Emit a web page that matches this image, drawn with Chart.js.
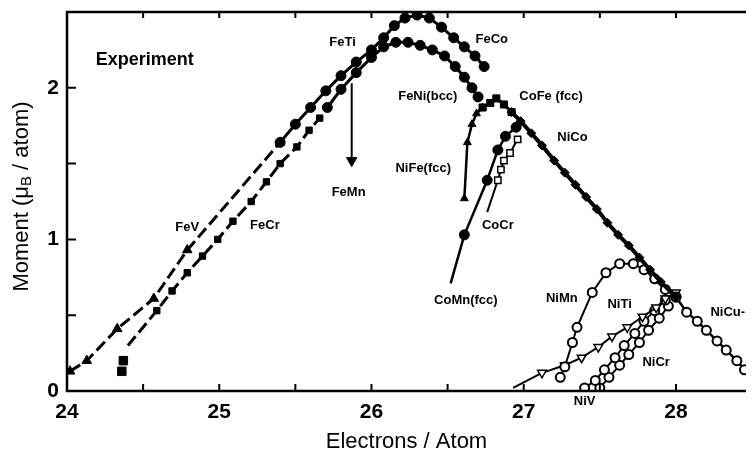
<!DOCTYPE html>
<html>
<head>
<meta charset="utf-8">
<script src="https://cdn.jsdelivr.net/npm/chart.js@4.4.1/dist/chart.umd.min.js"></script>
<style>
  html, body { margin: 0; padding: 0; background: #fff; }
  #wrap { width: 753px; height: 455px; }
</style>
</head>
<body>
<div id="wrap"><canvas id="slater" width="753" height="455"></canvas></div>
<script>
// Slater-Pauling curve

// FeV (filled triangles, dashed)
const feVX = [24.02, 24.13, 24.33, 24.57, 24.79, 25.40];
const feVY = [0.13, 0.20, 0.41, 0.61, 0.93, 1.64];

// FeCr (filled squares, dashed)
const feCrX = [24.40, 24.59, 24.69, 24.79, 24.89, 24.99, 25.09, 25.21, 25.31, 25.40, 25.51, 25.59, 25.66, 25.71];
const feCrY = [0.30, 0.53, 0.66, 0.78, 0.89, 1.00, 1.12, 1.25, 1.38, 1.50, 1.61, 1.72, 1.80, 1.87];
const feCrLowX = [24.36, 24.37];
const feCrLowY = [0.13, 0.20];

// FeTi / FeCo upper arc
const feCoX = [25.40, 25.50, 25.60, 25.70, 25.80, 25.90, 26.00, 26.08, 26.15, 26.22, 26.30, 26.38, 26.46, 26.54, 26.61, 26.68, 26.74];
const feCoY = [1.64, 1.76, 1.87, 1.98, 2.08, 2.17, 2.25, 2.33, 2.41, 2.46, 2.48, 2.46, 2.40, 2.33, 2.27, 2.21, 2.14];

// FeNi (bcc) lower arc
const feNiX = [25.71, 25.80, 25.90, 26.00, 26.08, 26.16, 26.24, 26.32, 26.40, 26.48, 26.55, 26.61, 26.66, 26.70];
const feNiY = [1.87, 1.99, 2.10, 2.20, 2.27, 2.30, 2.30, 2.28, 2.25, 2.21, 2.14, 2.07, 2.00, 1.94];

// FeMn drop
const feMnX = [25.87, 25.87];
const feMnY = [2.03, 1.52];

// NiFe (fcc)
const niFeX = [26.61, 26.63, 26.66, 26.69, 26.73];
const niFeY = [1.27, 1.64, 1.76, 1.83, 1.87];

// CoFe (fcc) top
const coFeX = [26.73, 26.78, 26.82, 26.87, 26.92];
const coFeY = [1.87, 1.90, 1.93, 1.89, 1.84];

// NiCo
const niCoX = [26.92, 26.98, 27.05, 27.12, 27.20, 27.27, 27.34, 27.41, 27.48, 27.55, 27.62, 27.69, 27.76, 27.83, 27.90, 28.00];
const niCoY = [1.84, 1.78, 1.70, 1.62, 1.52, 1.44, 1.36, 1.28, 1.20, 1.11, 1.03, 0.96, 0.88, 0.80, 0.72, 0.62];

// CoMn (fcc)
const coMnX = [26.52, 26.61, 26.76, 26.83, 26.88, 26.95, 27.00];
const coMnY = [0.71, 1.03, 1.39, 1.59, 1.68, 1.74, 1.77];

// CoCr (open squares)
const coCrX = [26.76, 26.83, 26.85, 26.87, 26.91, 26.96];
const coCrY = [1.18, 1.39, 1.46, 1.52, 1.57, 1.66];

// NiMn (open circles)
const niMnX = [27.24, 27.27, 27.32, 27.35, 27.45, 27.54, 27.63, 27.72, 27.79, 27.86, 27.93, 28.00];
const niMnY = [0.09, 0.16, 0.32, 0.42, 0.65, 0.78, 0.84, 0.84, 0.80, 0.74, 0.67, 0.62];

// NiTi (open inverted triangles)
const niTiX = [26.93, 27.12, 27.27, 27.38, 27.49, 27.58, 27.68, 27.78, 27.87, 27.93, 28.00];
const niTiY = [0.02, 0.12, 0.17, 0.22, 0.29, 0.36, 0.42, 0.49, 0.55, 0.61, 0.65];

// NiV and NiCr (open circles)
const niVX = [27.40, 27.47, 27.53, 27.60, 27.66, 27.73, 27.79, 27.86, 27.93];
const niVY = [0.02, 0.07, 0.14, 0.22, 0.30, 0.38, 0.46, 0.53, 0.60];
const niCrX = [27.50, 27.56, 27.63, 27.69, 27.76, 27.82, 27.89, 27.95];
const niCrY = [0.02, 0.09, 0.17, 0.24, 0.32, 0.40, 0.48, 0.56];

// NiCu (open circles)
const niCuX = [28.00, 28.07, 28.14, 28.20, 28.27, 28.33, 28.40, 28.45];
const niCuY = [0.62, 0.52, 0.46, 0.40, 0.33, 0.27, 0.20, 0.14];

// axis ticks
const xTickStep = 0.5;
const yTickStep = 0.5;

// curve labels
const labelText = ["FeTi", "FeCo", "FeNi(bcc)", "CoFe (fcc)", "NiCo", "NiFe(fcc)", "FeMn", "FeV", "FeCr",
  "CoCr", "CoMn(fcc)", "NiMn", "NiTi", "NiCr", "NiV", "NiCu-"];
const labelX = [25.81, 26.79, 26.37, 27.18, 27.32, 26.34, 25.85, 24.79, 25.30,
  26.83, 26.62, 27.25, 27.63, 27.87, 27.40, 28.34];
const labelY = [2.30, 2.32, 1.94, 1.94, 1.67, 1.47, 1.31, 1.08, 1.09,
  1.095, 0.60, 0.61, 0.57, 0.19, -0.07, 0.52];

const pts = (xs, ys) => xs.map((x, i) => ({ x: x, y: ys[i] }));
const noFirst = (r) => (ctx) => (ctx.dataIndex === 0 ? 0 : r);

function series(xs, ys, opts) {
  return Object.assign({
    data: pts(xs, ys),
    showLine: true,
    borderColor: "#000",
    backgroundColor: "#000",
    borderWidth: 3,
    pointRadius: 4.5,
    pointBorderColor: "#000",
    pointBackgroundColor: "#000",
    pointBorderWidth: 1,
    pointStyle: "circle",
    tension: 0,
  }, opts);
}

const datasets = [
  series(feVX, feVY, { pointStyle: "triangle", pointRadius: 5.5, borderDash: [12, 5] }),
  series(feCrX, feCrY, { pointStyle: "rect", pointRadius: noFirst(4.5), borderDash: [12, 5] }),
  series(feCrLowX, feCrLowY, { pointStyle: "rect", pointRadius: 6, showLine: false }),
  series(feCoX, feCoY, { pointRadius: 5 }),
  series(feNiX, feNiY, { pointRadius: 5 }),
  series(feMnX, feMnY, { borderWidth: 2, pointStyle: "triangle", rotation: 180, pointRadius: noFirst(6) }),
  series(niFeX, niFeY, { borderWidth: 2.5, pointStyle: "triangle", pointRadius: 4.5 }),
  series(coFeX, coFeY, { pointStyle: "rect", pointRadius: 5 }),
  series(niCoX, niCoY, { borderWidth: 4, pointStyle: "rectRot", pointRadius: 4.5 }),
  series(coMnX, coMnY, { borderWidth: 2.5, pointRadius: (c) => (c.dataIndex === 0 || c.dataIndex === 6 ? 0 : 5) }),
  series(coCrX, coCrY, { borderWidth: 2, pointStyle: "rect", pointRadius: noFirst(4.5),
    pointBackgroundColor: "#fff", pointBorderWidth: 1.5 }),
  series(niMnX, niMnY, { borderWidth: 2, pointRadius: 4.5, pointBackgroundColor: "#fff", pointBorderWidth: 2 }),
  series(niTiX, niTiY, { borderWidth: 2, pointStyle: "triangle", rotation: 180, pointRadius: noFirst(5),
    pointBackgroundColor: "#fff", pointBorderWidth: 1.5 }),
  series(niVX, niVY, { borderWidth: 2, pointRadius: 4.5, pointBackgroundColor: "#fff", pointBorderWidth: 2 }),
  series(niCrX, niCrY, { borderWidth: 2, pointRadius: 4.5, pointBackgroundColor: "#fff", pointBorderWidth: 2 }),
  series(niCuX, niCuY, { borderWidth: 2.5, pointRadius: 4.5, pointBackgroundColor: "#fff", pointBorderWidth: 2 }),
];

// frame, inward ticks and text annotations
const decorations = {
  id: "decorations",
  afterDraw(chart) {
    const ctx = chart.ctx;
    const area = chart.chartArea;
    const xs = chart.scales.x;
    const ys = chart.scales.y;
    ctx.save();
    ctx.strokeStyle = "#000";
    ctx.lineWidth = 2.5;
    ctx.beginPath();
    ctx.moveTo(area.right, area.top);
    ctx.lineTo(area.left, area.top);
    ctx.lineTo(area.left, area.bottom);
    ctx.lineTo(area.right, area.bottom);
    ctx.stroke();

    ctx.lineWidth = 2;
    ctx.beginPath();
    for (let v = 24; v <= 28.01; v += xTickStep) {
      const px = xs.getPixelForValue(v);
      ctx.moveTo(px, area.bottom);
      ctx.lineTo(px, area.bottom - 7);
      ctx.moveTo(px, area.top);
      ctx.lineTo(px, area.top + 6);
    }
    for (let v = 0; v <= 2.01; v += yTickStep) {
      const py = ys.getPixelForValue(v);
      ctx.moveTo(area.left, py);
      ctx.lineTo(area.left + 9, py);
    }
    ctx.stroke();

    // curve labels
    ctx.fillStyle = "#000";
    ctx.textAlign = "center";
    ctx.textBaseline = "middle";
    ctx.font = "bold 13px 'Liberation Sans', Arial, sans-serif";
    labelText.forEach((t, i) => {
      ctx.fillText(t, xs.getPixelForValue(labelX[i]), ys.getPixelForValue(labelY[i]));
    });
    ctx.font = "bold 18px 'Liberation Sans', Arial, sans-serif";
    ctx.fillText("Experiment", xs.getPixelForValue(24.51), ys.getPixelForValue(2.18));

    // y axis title with subscript B
    const big = "22px 'Liberation Sans', Arial, sans-serif";
    const small = "15px 'Liberation Sans', Arial, sans-serif";
    const parts = [["Moment (\u03bc", big, 0], ["B", small, 5], [" / atom)", big, 0]];
    let total = 0;
    parts.forEach((p) => { ctx.font = p[1]; total += ctx.measureText(p[0]).width; });
    ctx.translate(22, (area.top + area.bottom) / 2 - 5);
    ctx.rotate(-Math.PI / 2);
    ctx.textAlign = "left";
    let cx = -total / 2;
    parts.forEach((p) => {
      ctx.font = p[1];
      ctx.fillText(p[0], cx, p[2]);
      cx += ctx.measureText(p[0]).width;
    });
    ctx.restore();
  },
};

new Chart(document.getElementById("slater"), {
  type: "scatter",
  data: { datasets: datasets },
  plugins: [decorations],
  options: {
    responsive: false,
    animation: false,
    devicePixelRatio: 1,
    layout: { padding: { top: 12, right: 0, left: 0, bottom: 0 } },
    plugins: { legend: { display: false }, tooltip: { enabled: false } },
    scales: {
      x: {
        type: "linear",
        min: 24,
        max: 28.46,
        grid: { display: false, drawTicks: false },
        border: { display: false },
        ticks: {
          stepSize: xTickStep,
          includeBounds: false,
          maxRotation: 0,
          autoSkip: false,
          padding: 9,
          color: "#000",
          font: { family: "'Liberation Sans', Arial, sans-serif", size: 21, weight: "bold" },
          callback: (v) => (Number.isInteger(v) ? String(v) : ""),
        },
        title: {
          display: true,
          text: "Electrons / Atom",
          color: "#000",
          padding: { top: 3, bottom: 0 },
          font: { family: "'Liberation Sans', Arial, sans-serif", size: 22 },
        },
        afterFit: (s) => { s.height = 64; s.paddingLeft = 0; s.paddingRight = 0; },
      },
      y: {
        type: "linear",
        min: 0,
        max: 2.5,
        grid: { display: false, drawTicks: false },
        border: { display: false },
        ticks: {
          stepSize: yTickStep,
          includeBounds: false,
          padding: 8,
          color: "#000",
          font: { family: "'Liberation Sans', Arial, sans-serif", size: 21, weight: "bold" },
          callback: (v) => (Number.isInteger(v) ? String(v) : ""),
        },
        afterFit: (s) => { s.width = 67; s.paddingTop = 0; s.paddingBottom = 0; },
      },
    },
  },
});
</script>
</body>
</html>
